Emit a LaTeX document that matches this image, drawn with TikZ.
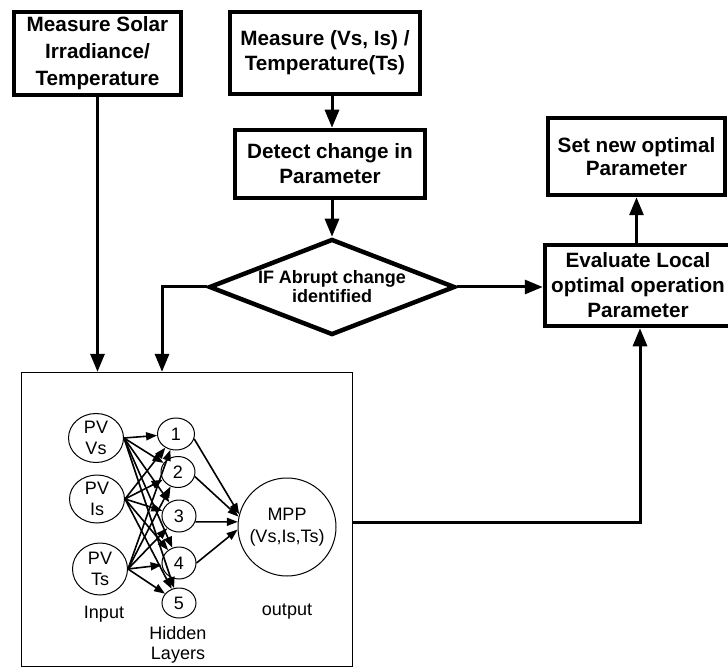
\documentclass[tikz,border=0pt]{standalone}
\usepackage{fontspec}
\setmainfont{Liberation Sans}
\usetikzlibrary{arrows.meta,shapes.geometric}
\begin{document}
\begin{tikzpicture}[x=1pt,y=-1pt,
  box/.style={draw, line width=4.5pt, rectangle, inner sep=0pt, align=center, font=\fontsize{20.7}{25}\bfseries\selectfont},
  conn/.style={line width=3pt, -{Triangle[length=18pt,width=14pt]}},
  neuron/.style={draw, ellipse, line width=1pt, inner sep=0pt},
  nnarr/.style={line width=1.6pt, -{Triangle[length=11pt,width=8pt]}},
  lbl/.style={align=center, font=\fontsize{18}{21}\selectfont, inner sep=0pt}]
\useasboundingbox (0,0) rectangle (728,668);
\clip (0,0) rectangle (728,668);

% flowchart boxes
\node[box, minimum width=167pt, minimum height=83pt, font=\fontsize{20.7}{27}\bfseries\selectfont] (A) at (97.5,53.5) {Measure Solar\\Irradiance/\\Temperature};
\node[box, minimum width=190pt, minimum height=82pt] (B) at (325,53) {Measure (Vs, Is) /\\Temperature(Ts)};
\node[box, minimum width=190pt, minimum height=68pt] (C) at (330,164) {Detect change in\\Parameter};
\node[box, minimum width=177pt, minimum height=77pt, font=\fontsize{20.7}{23}\bfseries\selectfont] (D) at (636.5,156.5) {Set new optimal\\Parameter};
\node[box, minimum width=186pt, minimum height=81pt] (E) at (638,285.5) {Evaluate Local\\optimal operation\\Parameter};
\node[draw, diamond, line width=4.5pt, aspect=2.56, minimum width=246pt, minimum height=96pt, inner sep=0pt, align=center, font=\fontsize{18}{19}\bfseries\selectfont] (dec) at (332,287) {IF Abrupt change\\identified};

% neural network block
\node[draw, line width=1.3pt, minimum width=331pt, minimum height=294pt, inner sep=0pt] (nn) at (187,519.5) {};
\node[neuron, minimum width=55pt, minimum height=49pt] (i1) at (96,438) {};
\node[lbl] at (i1) {PV\\Vs};
\node[neuron, minimum width=55pt, minimum height=48pt] (i2) at (97,499) {};
\node[lbl] at (i2) {PV\\Is};
\node[neuron, minimum width=55pt, minimum height=52pt] (i3) at (100,569) {};
\node[lbl] at (i3) {PV\\Ts};
\node[neuron, minimum width=37pt, minimum height=32pt, font=\fontsize{18}{21}\selectfont] (h1) at (176,434) {1};
\node[neuron, minimum width=34pt, minimum height=31pt, font=\fontsize{18}{21}\selectfont] (h2) at (178,472) {2};
\node[neuron, minimum width=34pt, minimum height=32pt, font=\fontsize{18}{21}\selectfont] (h3) at (179,516) {3};
\node[neuron, minimum width=34pt, minimum height=32pt, font=\fontsize{18}{21}\selectfont] (h4) at (179,563) {4};
\node[neuron, minimum width=34pt, minimum height=30pt, font=\fontsize{18}{21}\selectfont] (h5) at (179,603) {5};
\node[draw, circle, line width=1pt, minimum size=98pt, inner sep=0pt, align=center, font=\fontsize{18}{22}\selectfont] (mpp) at (287,527) {MPP\\(Vs,Is,Ts)};
\node[lbl] (lin) at (104,614) {Input};
\node[lbl, font=\fontsize{18}{20}\selectfont] (lhid) at (178,645) {Hidden\\Layers};
\node[lbl] (lout) at (287,612) {output};

\foreach \i in {i1,i2,i3}
  \foreach \h in {h1,h2,h3,h4,h5}
    \draw[nnarr] (\i.east) -- (\h);
\draw[nnarr] (h1.-15) -- (mpp.165);
\draw[nnarr] (h2.-15) -- (mpp.168);
\draw[nnarr] (h3.-20) -- (mpp.174);
\draw[nnarr] (h4.east) -- (mpp.183);

% connectors
\coordinate (cL) at (162,287);
\coordinate (cR) at (640,522);
\draw[conn] (A.south) -- (A.south |- nn.north);
\draw[conn] (B.south -| dec.north) -- (C.north -| dec.north);
\draw[conn] (C.south -| dec.north) -- (dec.north);
\draw[conn] (dec.east) -- (E.west |- dec.east);
\draw[conn] (dec.west) -- (cL) -- (cL |- nn.north);
\draw[conn] (E.north -| D.south) -- (D.south);
\draw[conn] (nn.east |- cR) -- (cR) -- (cR |- E.south);
\end{tikzpicture}
\end{document}
